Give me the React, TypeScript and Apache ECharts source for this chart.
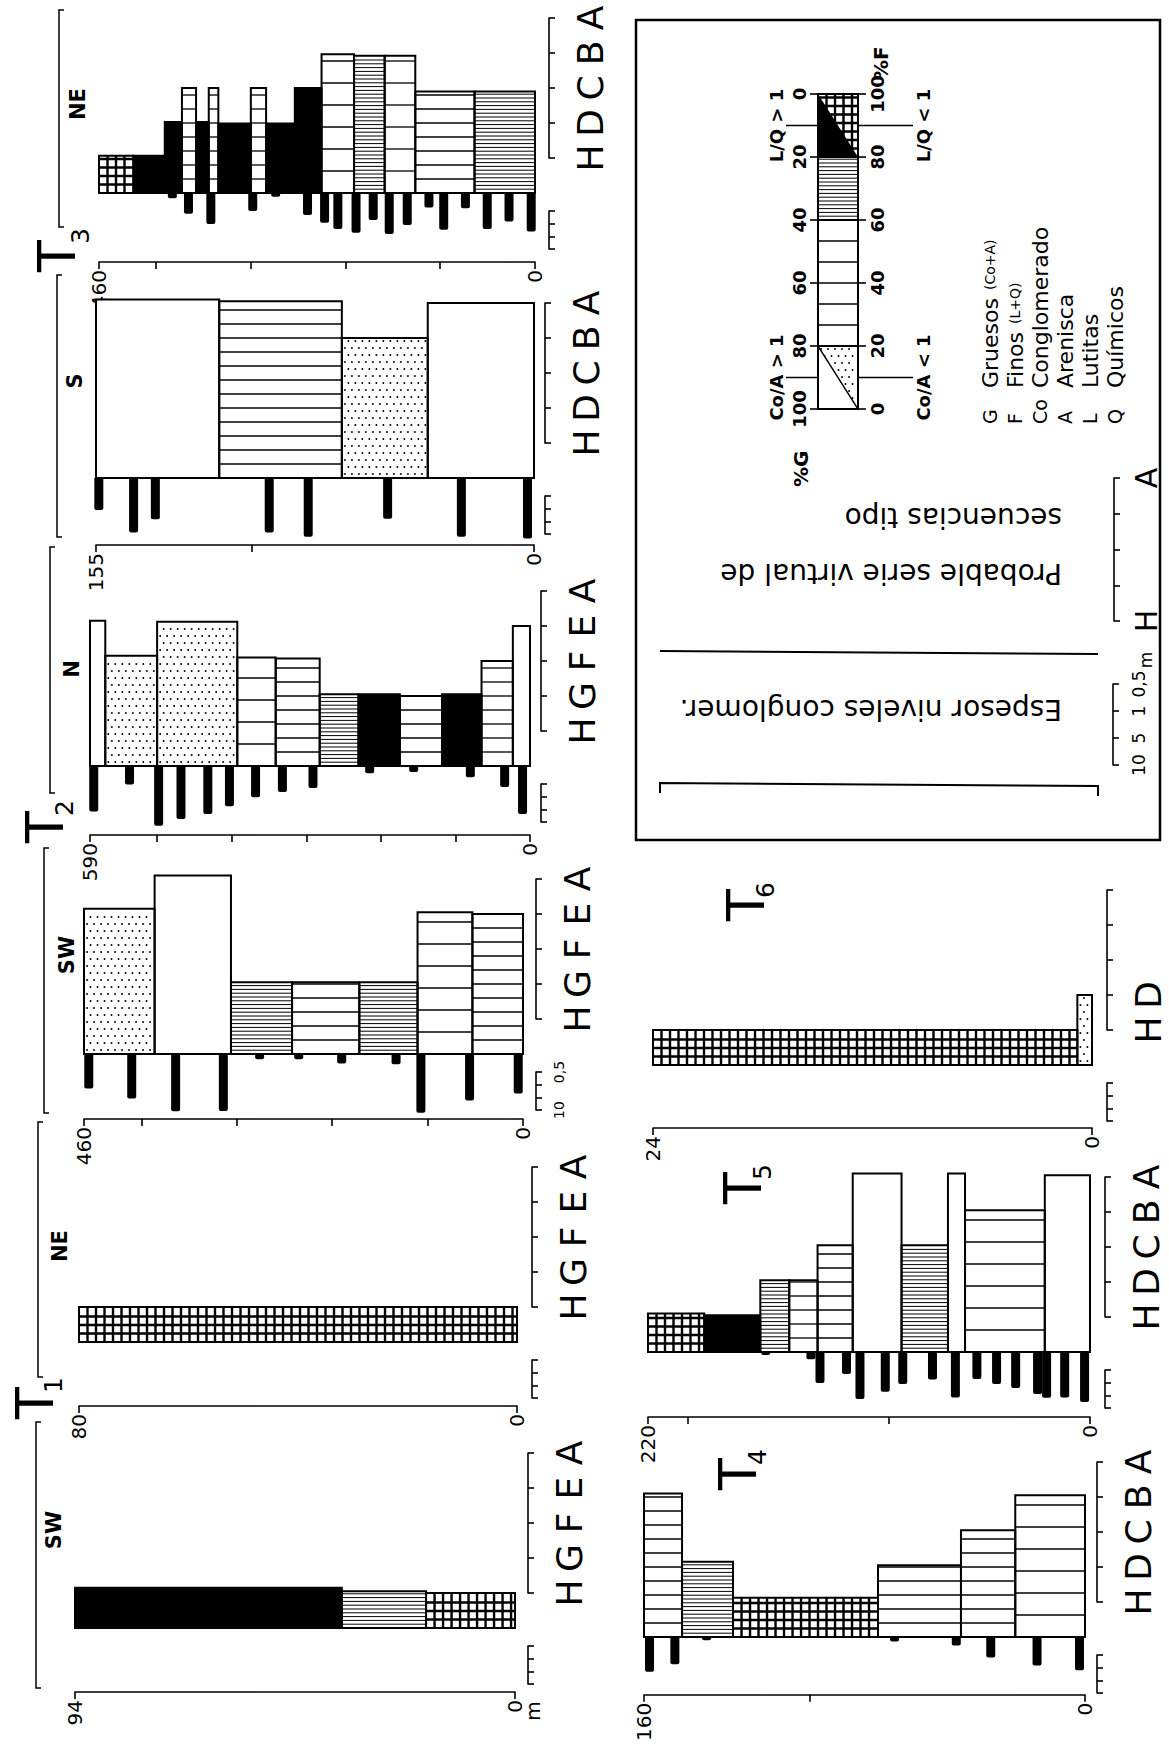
import React, { useEffect, useRef } from 'react';
import * as echarts from 'echarts';

const W = 1169;
const H = 1744;
const FONT = 'DejaVu Sans';

// ---------- tick labels ----------
const SEQ_HGFEA = ['H', 'G', 'F', 'E', 'A'];
const SEQ_HDCBA = ['H', 'D', 'C', 'B', 'A'];
const SEQ_HD = ['H', 'D', '', '', ''];
const SEQ_HA = ['H', '', '', '', 'A'];
const CONG_TICKS = ['0,5', '1', '5', '10'];
const CONG_PANEL_LABELS = ['0,5', '10'];

// ---------- T1 SW (thickness m: bounds from top to base) ----------
const T1SW_BOUNDS = [94, 37, 19, 0];
const T1SW_LEVELS = [1.15, 1.05, 1.0];
const T1SW_FILLS = ['black', 'dense', 'cross'];
const T1SW_CONG_AT: number[] = [];
const T1SW_CONG_M: number[] = [];

// ---------- T1 NE ----------
const T1NE_BOUNDS = [80, 0];
const T1NE_LEVELS = [1.0];
const T1NE_FILLS = ['cross'];
const T1NE_CONG_AT: number[] = [];
const T1NE_CONG_M: number[] = [];

// ---------- T2 SW ----------
const T2SW_BOUNDS = [460, 386, 306, 242, 171.5, 110.5, 53, 0];
const T2SW_LEVELS = [4.15, 5.1, 2.05, 2.05, 2.05, 4.05, 4.0];
const T2SW_FILLS = ['stipple', 'white', 'dense', 'lines', 'dense', 'wlines', 'lines'];
const T2SW_CONG_AT = [455, 410, 364, 314, 276, 235, 190, 133, 107, 56, 5];
const T2SW_CONG_M = [2.1, 5.1, 16, 15.6, 0.16, 0.16, 0.23, 0.25, 18, 6.2, 3.3];

// ---------- T2 N ----------
const T2N_BOUNDS = [590, 569.5, 500, 392.5, 341, 282, 230, 174.5, 118, 65, 23, 0];
const T2N_LEVELS = [4.15, 3.15, 4.12, 3.1, 3.07, 2.05, 2.05, 2.0, 2.05, 3.0, 4.0];
const T2N_FILLS = ['white', 'stipple', 'stipple', 'wlines', 'lines', 'dense', 'black', 'lines', 'black', 'lines', 'white'];
const T2N_CONG_AT = [585, 537, 498, 468, 432, 403, 368, 332, 291, 215, 156, 80, 34, 10];
const T2N_CONG_M = [5.6, 0.52, 20, 10.9, 7.0, 3.5, 1.6, 1.0, 0.7, 0.19, 0.17, 0.27, 0.64, 7.0];

// ---------- T3 S ----------
const T3S_BOUNDS = [155, 111.4, 68, 37.6, 0];
const T3S_LEVELS = [5.1, 5.05, 4.0, 5.0];
const T3S_FILLS = ['white', 'lines', 'stipple', 'white'];
const T3S_CONG_AT = [154, 141.7, 134, 93.7, 79.9, 51.8, 25.7, 2.3];
const T3S_CONG_M = [1.7, 12.5, 3.9, 12.5, 18, 3.7, 18, 21];

// ---------- T3 NE ----------
const T3NE_BOUNDS = [460, 423.7, 390.6, 372.5, 357.6, 344.2, 334.1, 299.8, 283.7, 253.4, 225.2, 190.9, 158.6, 126.3, 63.8, 0];
const T3NE_LEVELS = [1.1, 1.1, 2.1, 3.1, 2.1, 3.1, 2.05, 3.1, 2.05, 3.1, 4.1, 4.05, 4.05, 3.0, 3.0];
const T3NE_FILLS = ['cross', 'black', 'black', 'lines', 'black', 'lines', 'black', 'lines', 'black', 'black', 'wlines', 'dense', 'wlines', 'lines', 'dense'];
const T3NE_CONG_AT = [382.6, 365.6, 342, 297.8, 273.6, 240, 222, 208, 188.8, 170.7, 153.8, 134.8, 111.9, 96.3, 73.4, 50.4, 27.4, 4];
const T3NE_CONG_M = [0.16, 0.63, 1.56, 0.49, 0.14, 0.7, 1.4, 2.4, 3.4, 1.1, 3.8, 1.7, 0.36, 2.6, 0.39, 2.4, 1.26, 3.0];

// ---------- T4 ----------
const T4_BOUNDS = [160, 146.2, 127.7, 75.1, 45, 25.3, 0];
const T4_LEVELS = [4.1, 2.15, 1.12, 2.05, 3.05, 4.05];
const T4_FILLS = ['lines', 'dense', 'cross', 'lines', 'lines', 'wlines'];
const T4_CONG_AT = [158, 148.8, 137.3, 69.1, 46.7, 34.2, 17.4, 2];
const T4_CONG_M = [3.7, 1.7, 0.14, 0.16, 0.24, 0.84, 1.94, 3.2];

// ---------- T5 ----------
const T5_BOUNDS = [220, 192, 164.1, 149.7, 135.6, 118.1, 93.8, 70.7, 62.2, 22.5, 0];
const T5_LEVELS = [1.1, 1.05, 2.05, 2.05, 3.05, 5.1, 3.05, 5.1, 4.05, 5.05];
const T5_FILLS = ['cross', 'black', 'dense', 'lines', 'lines', 'white', 'dense', 'white', 'wlines', 'white'];
const T5_CONG_AT = [161.4, 138.9, 134.4, 121.2, 114.5, 101.9, 93.2, 78.4, 67, 56.3, 46.5, 37, 26.1, 21.6, 12.6, 2.7];
const T5_CONG_M = [0.13, 0.19, 1.56, 0.7, 6.4, 3.4, 1.7, 1.14, 5.6, 1.1, 1.7, 2.4, 4.1, 5.8, 5.6, 8.4];

// ---------- T6 ----------
const T6_BOUNDS = [24, 0.8, 0];
const T6_LEVELS = [1.0, 2.0];
const T6_FILLS = ['cross', 'stipple'];
const T6_CONG_AT: number[] = [];
const T6_CONG_M: number[] = [];

// ---------- legend ----------
const LEGEND_G_FROM = [0, 20, 40, 80];
const LEGEND_G_TO = [20, 40, 80, 100];
const LEGEND_FILLS = ['triBlackCross', 'dense', 'lines6', 'triStipple'];
const LEGEND_RATIOS = [
  { at: 10, left: 'L/Q > 1', right: 'L/Q < 1' },
  { at: 90, left: 'Co/A > 1', right: 'Co/A < 1' },
];
const LEGEND_ITEMS = [
  ['G', 'Gruesos', '(Co+A)'],
  ['F', 'Finos', '(L+Q)'],
  ['Co', 'Conglomerado', ''],
  ['A', 'Arenisca', ''],
  ['L', 'Lutitas', ''],
  ['Q', 'Químicos', ''],
];

const PANELS = [
  { key: 'T1SW', max: 94, bounds: T1SW_BOUNDS, levels: T1SW_LEVELS, fills: T1SW_FILLS, congAt: T1SW_CONG_AT, congM: T1SW_CONG_M, seq: SEQ_HGFEA },
  { key: 'T1NE', max: 80, bounds: T1NE_BOUNDS, levels: T1NE_LEVELS, fills: T1NE_FILLS, congAt: T1NE_CONG_AT, congM: T1NE_CONG_M, seq: SEQ_HGFEA },
  { key: 'T2SW', max: 460, bounds: T2SW_BOUNDS, levels: T2SW_LEVELS, fills: T2SW_FILLS, congAt: T2SW_CONG_AT, congM: T2SW_CONG_M, seq: SEQ_HGFEA },
  { key: 'T2N', max: 590, bounds: T2N_BOUNDS, levels: T2N_LEVELS, fills: T2N_FILLS, congAt: T2N_CONG_AT, congM: T2N_CONG_M, seq: SEQ_HGFEA },
  { key: 'T3S', max: 155, bounds: T3S_BOUNDS, levels: T3S_LEVELS, fills: T3S_FILLS, congAt: T3S_CONG_AT, congM: T3S_CONG_M, seq: SEQ_HDCBA },
  { key: 'T3NE', max: 460, bounds: T3NE_BOUNDS, levels: T3NE_LEVELS, fills: T3NE_FILLS, congAt: T3NE_CONG_AT, congM: T3NE_CONG_M, seq: SEQ_HDCBA },
  { key: 'T4', max: 160, bounds: T4_BOUNDS, levels: T4_LEVELS, fills: T4_FILLS, congAt: T4_CONG_AT, congM: T4_CONG_M, seq: SEQ_HDCBA },
  { key: 'T5', max: 220, bounds: T5_BOUNDS, levels: T5_LEVELS, fills: T5_FILLS, congAt: T5_CONG_AT, congM: T5_CONG_M, seq: SEQ_HDCBA },
  { key: 'T6', max: 24, bounds: T6_BOUNDS, levels: T6_LEVELS, fills: T6_FILLS, congAt: T6_CONG_AT, congM: T6_CONG_M, seq: SEQ_HD },
];

// ---------- layout (pixels) ----------
const UNIT = 35;
const LEVEL_MAX = 5.7;
const CONG_MIN = 0.1;
const PX_PER_DECADE = 26;

const LAYOUT: Record<string, any> = {
  T1SW: { xMax: 75, x0: 515, base: 1628, axisY: 1692, brX: 538 },
  T1NE: { xMax: 79, x0: 517, base: 1342, axisY: 1406, brX: 542 },
  T2SW: { xMax: 84, x0: 523, base: 1054, axisY: 1119, brX: 546, congLabels: true },
  T2N: { xMax: 90, x0: 530, base: 766, axisY: 835, brX: 551 },
  T3S: { xMax: 96, x0: 534, base: 478, axisY: 545, brX: 555 },
  T3NE: { xMax: 99, x0: 535, base: 193, axisY: 262, brX: 559 },
  T4: { xMax: 644, x0: 1085, base: 1637, axisY: 1705, brX: 1107 },
  T5: { xMax: 648, x0: 1090, base: 1352, axisY: 1417, brX: 1115 },
  T6: { xMax: 653, x0: 1092, base: 1065, axisY: 1128, brX: 1117 },
};

const HEADERS = [
  { x: 36, y1: 1422, y2: 1688, tag: 'SW', tx: 54, ty: 1530 },
  { x: 38, y1: 1122, y2: 1377, tag: 'NE', tx: 60, ty: 1246 },
  { x: 44, y1: 848, y2: 1113, tag: 'SW', tx: 67, ty: 955 },
  { x: 50, y1: 547, y2: 793, tag: 'N', tx: 72, ty: 669 },
  { x: 57, y1: 275, y2: 537, tag: 'S', tx: 75, ty: 381 },
  { x: 59, y1: 10, y2: 227, tag: 'NE', tx: 78, ty: 104 },
];

const TITLES = [
  { n: '1', x: 35, y: 1403, sx: 53, sy: 1385 },
  { n: '2', x: 45, y: 827, sx: 64, sy: 808 },
  { n: '3', x: 57, y: 256, sx: 80, sy: 236 },
  { n: '4', x: 738, y: 1474, sx: 757, sy: 1457 },
  { n: '5', x: 743, y: 1188, sx: 762, sy: 1172 },
  { n: '6', x: 746, y: 905, sx: 765, sy: 890 },
];

const INK = '#000';

function patternShapes(kind: string, x: number, y: number, w: number, h: number): any[] {
  const out: any[] = [];
  if (kind === 'triBlackCross' || kind === 'triStipple') {
    out.push(...patternShapes(kind === 'triBlackCross' ? 'cross' : 'stipple', x, y, w, h));
    out.push({
      type: 'polygon',
      shape: { points: [[x, y], [x, y + h], [x + w, y + h]] },
      style: kind === 'triBlackCross' ? { fill: INK } : { fill: '#fff', stroke: INK, lineWidth: 1.4 },
    });
    return out;
  }
  out.push({ type: 'rect', shape: { x, y, width: w, height: h }, style: { fill: kind === 'black' ? INK : '#fff' } });
  const hLine = (yy: number, lw: number) =>
    out.push({ type: 'line', shape: { x1: x, y1: yy, x2: x + w, y2: yy }, style: { stroke: INK, lineWidth: lw } });
  const hLines = (sp: number, lw: number) => {
    for (let yy = y + h - sp; yy > y + 1.5; yy -= sp) hLine(yy, lw);
  };
  if (kind === 'dense') hLines(3.8, 1);
  if (kind === 'lines') hLines(14, 1.3);
  if (kind === 'wlines') hLines(22, 1.3);
  if (kind === 'lines6') for (let k = 1; k < 6; k++) hLine(y + (h * k) / 6, 1.3);
  if (kind === 'cross') {
    hLines(8.5, 2.4);
    for (let xx = x + 8.5; xx < x + w - 1.5; xx += 8.5)
      out.push({ type: 'line', shape: { x1: xx, y1: y, x2: xx, y2: y + h }, style: { stroke: INK, lineWidth: 2.4 } });
  }
  if (kind === 'stipple') {
    let r = 0;
    for (let yy = y + h - 4; yy > y + 2; yy -= 7, r++)
      for (let xx = x + 3 + (r % 2) * 3.5; xx < x + w - 2; xx += 7)
        out.push({ type: 'circle', shape: { cx: xx, cy: yy, r: 0.95 }, style: { fill: INK } });
  }
  return out;
}

let measureCtx: CanvasRenderingContext2D | null = null;
function measure(t: string, size: number, weight = 'normal') {
  if (!measureCtx) measureCtx = document.createElement('canvas').getContext('2d');
  if (!measureCtx) return t.length * size * 0.6;
  measureCtx.font = `${weight} ${size}px "${FONT}"`;
  return measureCtx.measureText(t).width;
}

function txt(text: string, x: number, y: number, o: any = {}) {
  const align = o.align ?? 'center';
  const valign = o.valign ?? 'middle';
  return {
    type: 'text',
    x,
    y,
    rotation: o.rotation ?? Math.PI / 2,
    silent: true,
    z: 20,
    style: {
      text,
      fill: INK,
      fontFamily: FONT,
      fontSize: o.size ?? 20,
      fontWeight: o.weight ?? 'normal',
      textAlign: align,
      textVerticalAlign: valign,
      align,
      verticalAlign: valign,
    },
  };
}

function buildOption() {
  const grid: any[] = [];
  const xAxis: any[] = [];
  const yAxis: any[] = [];
  const series: any[] = [];
  const graphic: any[] = [];
  const line = { color: INK, width: 1.6 };
  const addGrid = (g: any) => grid.push({ ...g, show: false, containLabel: false }) - 1;

  const bracket = (left: number, top: number, height: number, data: string[], o: any) => {
    const gi = addGrid({ left: left - 10, width: 10, top, height });
    xAxis.push({ gridIndex: gi, type: 'value', min: 0, max: 1, show: false });
    const only: string[] | null = o.only ?? null;
    yAxis.push({
      gridIndex: gi,
      type: 'category',
      data,
      boundaryGap: false,
      position: 'right',
      inverse: !!o.inverse,
      axisLine: { show: true, lineStyle: line },
      axisTick: { show: true, length: o.tick ?? 6, interval: 0, lineStyle: line },
      axisLabel: {
        show: o.labels !== false,
        interval: 0,
        rotate: 90,
        margin: o.margin,
        fontSize: o.size,
        fontFamily: FONT,
        color: INK,
        formatter: (v: string) => (only && only.indexOf(v) < 0 ? '' : v),
      },
      splitLine: { show: false },
    });
  };

  PANELS.forEach((p) => {
    const L = LAYOUT[p.key];
    const w = L.x0 - L.xMax;
    // --- lithology units ---
    const gA = addGrid({ left: L.xMax, top: L.base - LEVEL_MAX * UNIT, width: w, height: LEVEL_MAX * UNIT });
    const xA = xAxis.push({ gridIndex: gA, type: 'value', min: 0, max: p.max, inverse: true, show: false }) - 1;
    const yA = yAxis.push({ gridIndex: gA, type: 'value', min: 0, max: LEVEL_MAX, show: false }) - 1;
    const units = p.levels.map((lv, i) => [p.bounds[i], p.bounds[i + 1], lv]);
    const fills = p.fills;
    const rectOf = (api: any) => {
      const a = api.coord([api.value(0), api.value(2)]);
      const b = api.coord([api.value(1), 0]);
      return {
        x: Math.min(a[0], b[0]),
        y: Math.min(a[1], b[1]),
        width: Math.abs(b[0] - a[0]),
        height: Math.abs(b[1] - a[1]),
      };
    };
    series.push({
      type: 'custom',
      xAxisIndex: xA,
      yAxisIndex: yA,
      data: units,
      silent: true,
      z: 2,
      renderItem: (params: any, api: any) => {
        const r = rectOf(api);
        return { type: 'group', children: patternShapes(fills[params.dataIndex], r.x, r.y, r.width, r.height) };
      },
    });
    series.push({
      type: 'custom',
      xAxisIndex: xA,
      yAxisIndex: yA,
      data: units,
      silent: true,
      z: 3,
      renderItem: (params: any, api: any) => ({
        type: 'rect',
        shape: rectOf(api),
        style: { fill: 'none', stroke: INK, lineWidth: 2 },
      }),
    });

    // --- conglomerate levels + thickness axis ---
    const gap = L.axisY - L.base;
    const gB = addGrid({ left: L.xMax, top: L.base, width: w, height: gap });
    const max = p.max;
    const xB =
      xAxis.push({
        gridIndex: gB,
        type: 'value',
        min: 0,
        max,
        interval: 100,
        inverse: true,
        position: 'bottom',
        axisLine: { show: true, lineStyle: line },
        axisTick: { show: true, length: 7, lineStyle: line },
        splitLine: { show: false },
        axisLabel: {
          show: true,
          rotate: 90,
          margin: 8,
          fontSize: 20,
          fontFamily: FONT,
          color: INK,
          showMinLabel: true,
          showMaxLabel: true,
          formatter: (v: number) => (v === 0 || Math.abs(v - max) < 1e-6 ? String(Math.round(v)) : ''),
        },
      }) - 1;
    const congMax = CONG_MIN * Math.pow(10, gap / PX_PER_DECADE);
    const yB =
      yAxis.push({ gridIndex: gB, type: 'log', logBase: 10, min: CONG_MIN, max: congMax, inverse: true, show: false }) - 1;
    if (p.congAt.length) {
      series.push({
        type: 'custom',
        xAxisIndex: xB,
        yAxisIndex: yB,
        data: p.congAt.map((a, i) => [a, p.congM[i]]),
        silent: true,
        z: 4,
        renderItem: (params: any, api: any) => {
          const t = api.coord([api.value(0), api.value(1)]);
          const b = api.coord([api.value(0), CONG_MIN]);
          return {
            type: 'rect',
            shape: { x: t[0] - 4.5, y: b[1], width: 9, height: Math.max(2, t[1] - b[1]), r: [0, 0, 2, 2] },
            style: { fill: INK },
          };
        },
      });
    }

    // --- sequence-type bracket (H ... A) ---
    bracket(L.brX, L.base - 5 * UNIT, 4 * UNIT, p.seq, { margin: 13, size: 36 });
    // --- conglomerate thickness bracket ---
    bracket(L.brX, L.base + 18, 38, CONG_TICKS, {
      inverse: true,
      margin: 6,
      size: 14,
      tick: 6,
      labels: !!L.congLabels,
      only: CONG_PANEL_LABELS,
    });
  });

  // "m" unit after 0 of T1 SW
  graphic.push(txt('m', 533, 1711, { size: 20 }));

  // header lines and panel tags
  HEADERS.forEach((h) => {
    graphic.push({
      type: 'polyline',
      silent: true,
      shape: { points: [[h.x + 5, h.y1], [h.x, h.y1], [h.x, h.y2], [h.x + 5, h.y2]] },
      style: { stroke: INK, lineWidth: 1.5, fill: null },
    });
    graphic.push(txt(h.tag, h.tx, h.ty, { size: 21, weight: 'bold' }));
  });

  // T titles
  TITLES.forEach((t) => {
    graphic.push(txt('T', t.x, t.y, { size: 52 }));
    graphic.push(txt(t.n, t.sx, t.sy, { size: 25 }));
  });

  // ---------- legend box ----------
  graphic.push({
    type: 'rect',
    silent: true,
    shape: { x: 636, y: 20, width: 524, height: 820 },
    style: { fill: 'none', stroke: INK, lineWidth: 2.5 },
  });

  const LG = { left: 818, top: 94, width: 40, height: 315 };
  const gL = addGrid(LG);
  const xL = xAxis.push({ gridIndex: gL, type: 'value', min: 0, max: 1, show: false }) - 1;
  const legendLabel = { rotate: 90, margin: 10, fontSize: 18, fontWeight: 'bold', fontFamily: FONT, color: INK };
  const yL =
    yAxis.push({
      gridIndex: gL,
      type: 'value',
      min: 0,
      max: 100,
      interval: 20,
      inverse: true,
      position: 'left',
      axisLine: { show: false },
      axisTick: { show: true, length: 8, lineStyle: line },
      splitLine: { show: false },
      axisLabel: legendLabel,
    }) - 1;
  yAxis.push({
    gridIndex: gL,
    type: 'value',
    min: 0,
    max: 100,
    interval: 20,
    position: 'right',
    axisLine: { show: false },
    axisTick: { show: true, length: 8, lineStyle: line },
    splitLine: { show: false },
    axisLabel: legendLabel,
  });
  const legendRect = (api: any) => {
    const a = api.coord([0, api.value(0)]);
    const b = api.coord([1, api.value(1)]);
    return { x: a[0], y: Math.min(a[1], b[1]), width: b[0] - a[0], height: Math.abs(b[1] - a[1]) };
  };
  const legendData = LEGEND_G_FROM.map((f, i) => [f, LEGEND_G_TO[i]]);
  series.push({
    type: 'custom',
    xAxisIndex: xL,
    yAxisIndex: yL,
    data: legendData,
    silent: true,
    z: 2,
    renderItem: (params: any, api: any) => {
      const r = legendRect(api);
      return { type: 'group', children: patternShapes(LEGEND_FILLS[params.dataIndex], r.x, r.y, r.width, r.height) };
    },
  });
  series.push({
    type: 'custom',
    xAxisIndex: xL,
    yAxisIndex: yL,
    data: legendData,
    silent: true,
    z: 3,
    renderItem: (params: any, api: any) => ({
      type: 'rect',
      shape: legendRect(api),
      style: { fill: 'none', stroke: INK, lineWidth: 2 },
    }),
  });

  LEGEND_RATIOS.forEach((r) => {
    const yy = LG.top + (r.at / 100) * LG.height;
    graphic.push({
      type: 'line',
      silent: true,
      shape: { x1: 786, y1: yy, x2: LG.left, y2: yy },
      style: { stroke: INK, lineWidth: 1.5 },
    });
    graphic.push({
      type: 'line',
      silent: true,
      shape: { x1: LG.left + LG.width, y1: yy, x2: 913, y2: yy },
      style: { stroke: INK, lineWidth: 1.5 },
    });
    graphic.push(txt(r.left, 776, yy, { size: 18, weight: 'bold' }));
    graphic.push(txt(r.right, 923, yy, { size: 18, weight: 'bold' }));
  });
  graphic.push(txt('%G', 801, 487, { size: 20, weight: 'bold', align: 'left' }));
  graphic.push(txt('%F', 881, 80, { size: 20, weight: 'bold', align: 'left' }));

  // legend glossary
  const ITEM_X = [990, 1015, 1040, 1065, 1090, 1115];
  LEGEND_ITEMS.forEach((it, i) => {
    const x = ITEM_X[i];
    graphic.push(txt(it[0], x, 424, { size: 19, align: 'left' }));
    graphic.push(txt(it[1], x, 388, { size: 22, align: 'left' }));
    if (it[2]) {
      const wd = measure(it[1], 22);
      graphic.push(txt(it[2], x, 388 - wd - 8, { size: 14, align: 'left' }));
    }
  });

  // legend panel-structure explanation (upside-down text)
  graphic.push(txt('Probable serie virtual de', 1062, 573, { rotation: Math.PI, size: 28, align: 'left' }));
  graphic.push(txt('secuencias tipo', 1062, 517, { rotation: Math.PI, size: 28, align: 'left' }));
  graphic.push(txt('Espesor niveles conglomer.', 1062, 709, { rotation: Math.PI, size: 28, align: 'left' }));
  graphic.push({
    type: 'line',
    silent: true,
    shape: { x1: 660, y1: 651, x2: 1098, y2: 654 },
    style: { stroke: INK, lineWidth: 2 },
  });
  graphic.push({
    type: 'polyline',
    silent: true,
    shape: { points: [[660, 793], [660, 783], [1098, 786], [1098, 796]] },
    style: { stroke: INK, lineWidth: 2, fill: null },
  });
  bracket(1124, 478, 143, SEQ_HA, { margin: 7, size: 30 });
  bracket(1123, 684, 81, CONG_TICKS, { inverse: true, margin: 7, size: 17 });
  graphic.push(txt('m', 1146, 660, { size: 17 }));

  return {
    animation: false,
    backgroundColor: '#fff',
    grid,
    xAxis,
    yAxis,
    series,
    graphic: { elements: graphic },
  };
}

export default function App() {
  const ref = useRef<HTMLDivElement>(null);
  useEffect(() => {
    if (!ref.current) return;
    const chart = echarts.init(ref.current, null, { renderer: 'svg', width: W, height: H });
    chart.setOption(buildOption() as any);
    return () => chart.dispose();
  }, []);
  return (
    <div
      ref={ref}
      style={{ position: 'absolute', left: 0, top: 0, width: W, height: H, background: '#fff' }}
    />
  );
}
